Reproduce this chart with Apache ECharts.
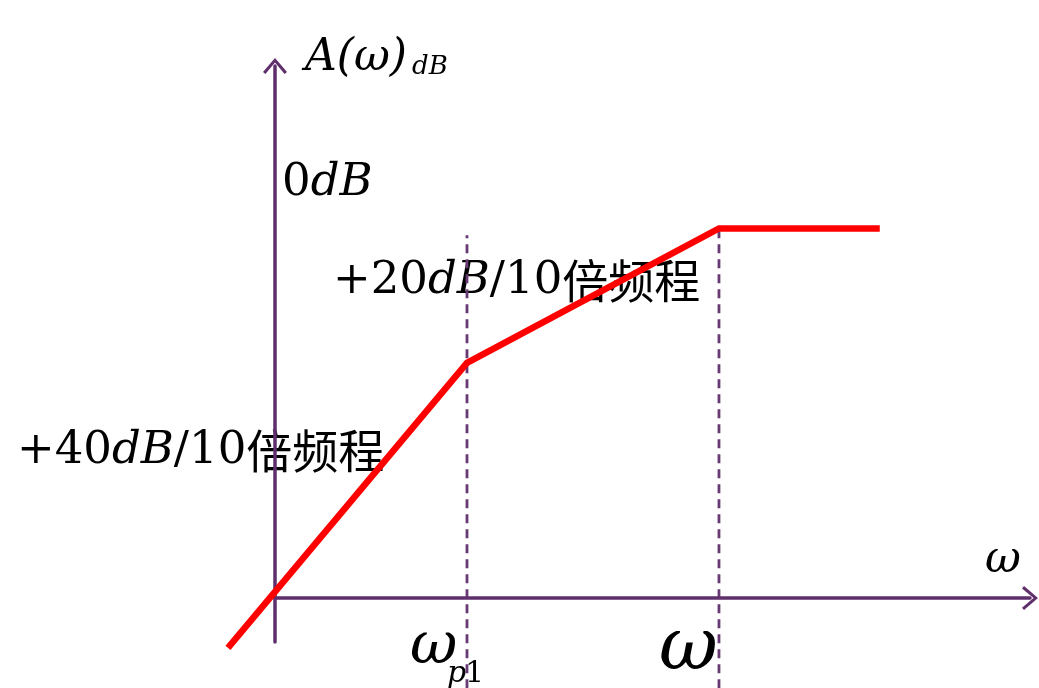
<!DOCTYPE html>
<html>
<head>
<meta charset="utf-8">
<script src="https://cdn.jsdelivr.net/npm/echarts@6/dist/echarts.min.js"></script>
<style>html,body{margin:0;padding:0;background:#fff;}#c{width:1039px;height:688px;}</style>
</head>
<body>
<div id="c"></div>
<script>
// Asymptotic Bode magnitude plot (arbitrary log-ω units)
const omegaPoints = [-0.49, 2.0, 4.625, 6.3];
const gainPoints = [-0.52, 2.45, 3.85, 3.85];
const markerOmegas = [2.0, 4.625];
const markerTops = [3.78, 3.85];
const markerBottom = -0.94;
const xRange = [0, 7.865];
const yRange = [-0.458, 5.542];
const dataXRange = [-0.75, 7.865];
const dataYRange = [-0.75, 5.542];
const slope1Label = '+40';
const slope2Label = '+20';

const AXIS = '#5e2f6b';
const DASH = '#683a74';
const SERIF = '"DejaVu Serif", "Liberation Serif", serif';
const CJK = '"Noto Sans CJK SC", sans-serif';

const redLine = omegaPoints.map((x, i) => [x, gainPoints[i]]);
const dashSeries = markerOmegas.map((x, i) => ({
  type: 'line', xAxisIndex: 1, yAxisIndex: 1,
  data: [[x, markerBottom], [x, markerTops[i]]],
  symbol: 'none', clip: false, silent: true, z: 4,
  lineStyle: { color: DASH, width: 2.8, type: [9, 6] }
}));

const chevron = 'path://M0,14 L12,0 L24,14 L21.6,16 L12,4.5 L2.4,16 Z';

const rich = {
  n: { fontFamily: SERIF, fontSize: 45, fill: '#000' },
  i: { fontFamily: SERIF, fontSize: 45, fontStyle: 'italic', fill: '#000' },
  c: { fontFamily: CJK, fontSize: 46, fill: '#000' }
};
function txt(x, y, text) {
  return {
    type: 'text', z: 0, silent: true,
    style: { x: x, y: y, text: text, rich: rich, fill: '#000', textAlign: 'left', textVerticalAlign: 'middle', verticalAlign: 'middle', align: 'left' }
  };
}
function plain(x, y, text, size, style, weight) {
  style = style || 'italic';
  weight = weight || 'normal';
  return {
    type: 'text', z: 0, silent: true,
    style: { x: x, y: y, text: text, fill: '#000', fontFamily: SERIF, fontSize: size, fontStyle: style, fontWeight: weight,
      font: style + ' ' + weight + ' ' + size + 'px ' + SERIF,
      textAlign: 'left', textVerticalAlign: 'middle', verticalAlign: 'middle', align: 'left' }
  };
}
function hiddenAxis(range, gridIndex) {
  return { type: 'value', gridIndex: gridIndex, min: range[0], max: range[1], show: false,
    axisLine: { show: false }, axisTick: { show: false }, axisLabel: { show: false }, splitLine: { show: false } };
}
function shownAxis(range, gridIndex) {
  return { type: 'value', gridIndex: gridIndex, min: range[0], max: range[1], z: 5,
    axisLine: { onZero: true, symbol: ['none', chevron], symbolSize: [24, 16], lineStyle: { color: AXIS, width: 3.5 } },
    axisTick: { show: false }, axisLabel: { show: false }, splitLine: { show: false } };
}

const chart = echarts.init(document.getElementById('c'), null, { renderer: 'canvas' });
chart.setOption({
  animation: false,
  backgroundColor: '#fff',
  grid: [
    { left: 275, right: 9, top: 66, bottom: 46, containLabel: false },
    { left: 203, right: 9, top: 66, bottom: 18, containLabel: false }
  ],
  xAxis: [shownAxis(xRange, 0), hiddenAxis(dataXRange, 1)],
  yAxis: [shownAxis(yRange, 0), hiddenAxis(dataYRange, 1)],
  graphic: { elements: [
    txt(282, 183, '{n|0}{i|dB}'),
    txt(333, 281, '{n|' + slope2Label + '}{i|dB}{n|/10}{c|倍频程}'),
    txt(17, 451, '{n|' + slope1Label + '}{i|dB}{n|/10}{c|倍频程}'),
    plain(305, 59, 'A(ω)', 44),
    plain(412, 67, 'dB', 26),
    plain(985, 561, 'ω', 44),
    plain(410, 648, 'ω', 58),
    plain(447, 674, 'p', 30),
    plain(465, 674, '1', 30, 'normal'),
    plain(659, 650, 'ω', 72)
  ]},
  series: dashSeries.concat([{
    type: 'line', xAxisIndex: 1, yAxisIndex: 1, data: redLine, symbol: 'none', clip: false, silent: true, z: 6,
    lineStyle: { color: '#ff0000', width: 6.5, join: 'miter' }
  }])
});
</script>
</body>
</html>
